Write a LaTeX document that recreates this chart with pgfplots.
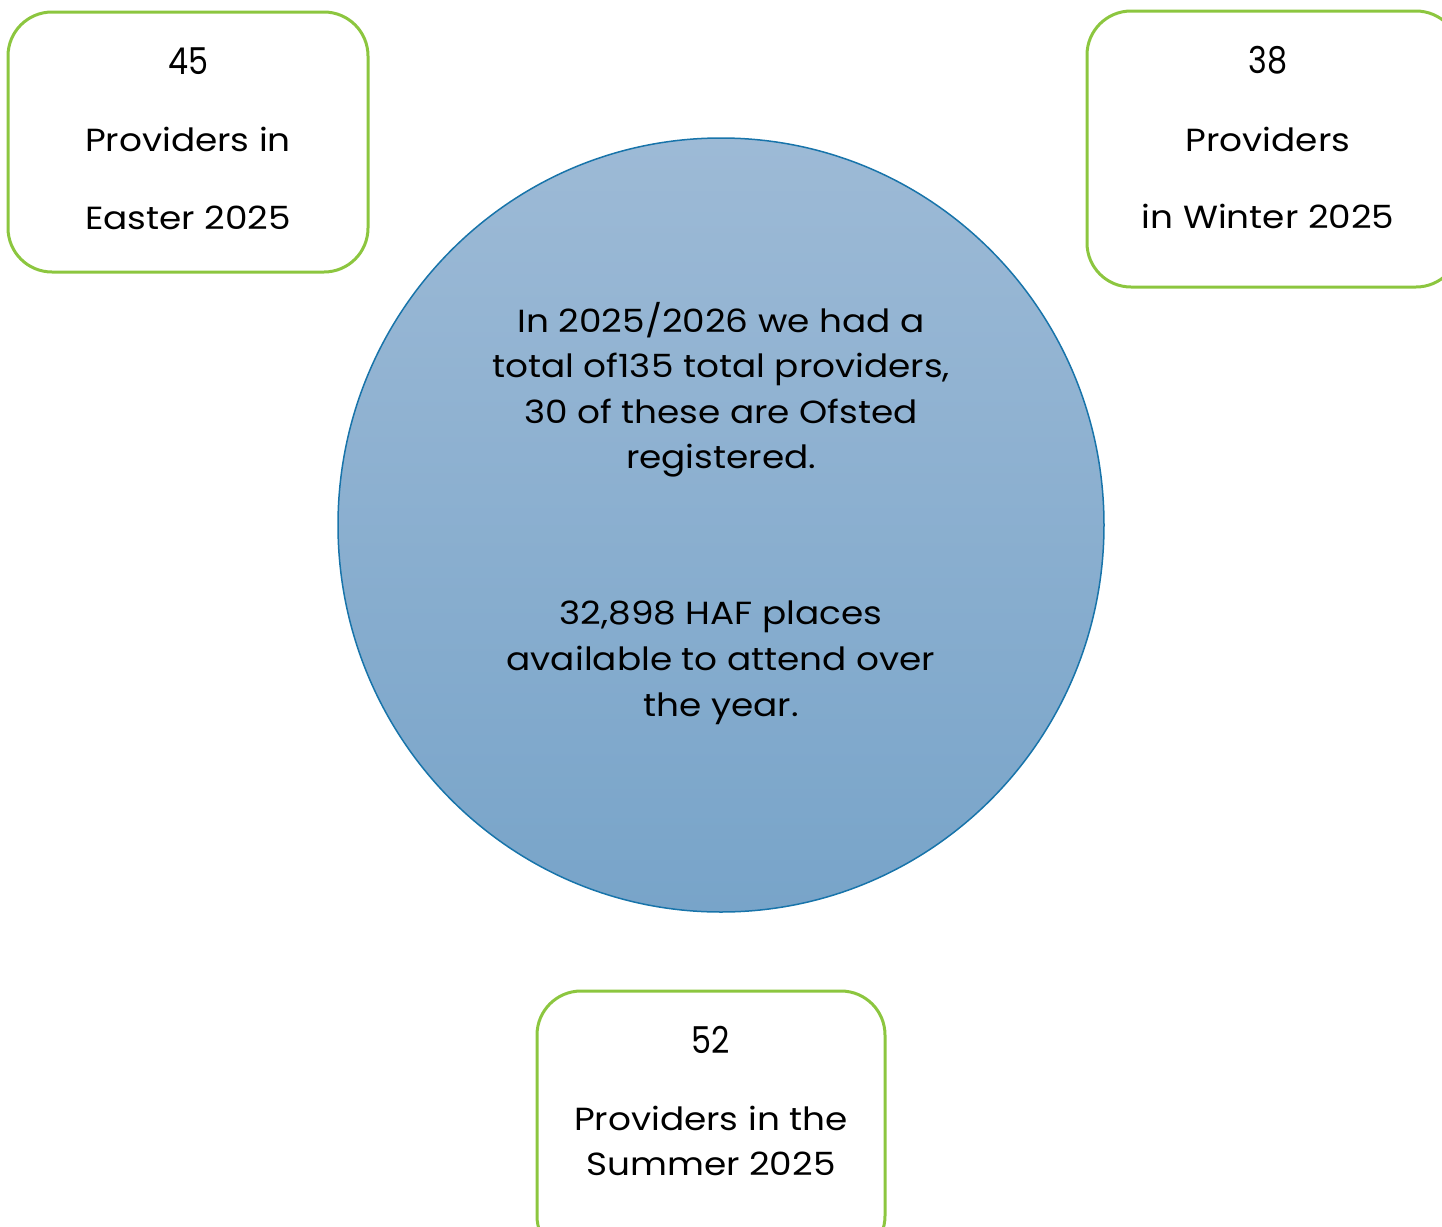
\documentclass[border=0pt]{standalone}
\usepackage{pgfplots}
\pgfplotsset{compat=1.18}
\usepackage{pgfplotstable}
\usepackage{fontspec}
\setmainfont{Poppins}[FakeStretch=1.12]
\newfontfamily\numfont{Poppins}[FakeStretch=0.86]

\definecolor{boxgreen}{RGB}{140,198,63}
\definecolor{circtop}{RGB}{157,186,214}
\definecolor{circbot}{RGB}{120,164,201}
\definecolor{circline}{RGB}{24,116,170}

% provider counts per holiday (x, baseline y in px)
\pgfplotstableread{
x y n
188 74 45
1268 73 38
711 1053 52
}\counts

\newcommand{\txt}{\fontsize{16}{19}\selectfont}
\tikzset{lbl/.style={anchor=base, inner sep=0pt, font=\txt}}

\begin{document}
\begin{tikzpicture}
\begin{axis}[
  scale only axis, width=721pt, height=613.5pt,
  xmin=0, xmax=1442, ymin=0, ymax=1227, y dir=reverse,
  hide axis, clip=true,
]
% central circle
\draw[circline, line width=0.75pt, top color=circtop, bottom color=circbot]
  (axis cs:721,525) ellipse [x radius=383, y radius=387];
% boxes
\draw[boxgreen, line width=1.5pt, rounded corners=22pt] (axis cs:8,12) rectangle (axis cs:368,272);
\draw[boxgreen, line width=1.5pt, rounded corners=22pt] (axis cs:1087,11) rectangle (axis cs:1460,287);
\draw[boxgreen, line width=1.5pt, rounded corners=22pt] (axis cs:537,991) rectangle (axis cs:885,1260);

\addplot[draw=none, mark=none, nodes near coords, point meta=explicit symbolic,
  nodes near coords style={anchor=base, inner sep=0pt, font=\numfont\fontsize{18.5}{22}\selectfont}]
  table[x=x, y=y, meta=n] {\counts};

% box labels
\node[lbl] at (axis cs:188,151) {Providers in};
\node[lbl] at (axis cs:188,229) {Easter 2025};
\node[lbl] at (axis cs:1268,151) {Providers};
\node[lbl] at (axis cs:1268,228) {in Winter 2025};
\node[lbl] at (axis cs:711,1130) {Providers in the};
\node[lbl] at (axis cs:711,1175) {Summer 2025};

% circle text
\node[lbl] at (axis cs:721,332) {In 2025/2026 we had a};
\node[lbl] at (axis cs:721,377) {total of135 total providers,};
\node[lbl] at (axis cs:721,423) {30 of these are Ofsted};
\node[lbl] at (axis cs:721,468) {registered.};
\node[lbl] at (axis cs:721,624) {32,898 HAF places};
\node[lbl] at (axis cs:721,670) {available to attend over};
\node[lbl] at (axis cs:721,716) {the year.};
\end{axis}
\pgfresetboundingbox
\path[use as bounding box] (current axis.south west) rectangle (current axis.north east);
\end{tikzpicture}
\end{document}
